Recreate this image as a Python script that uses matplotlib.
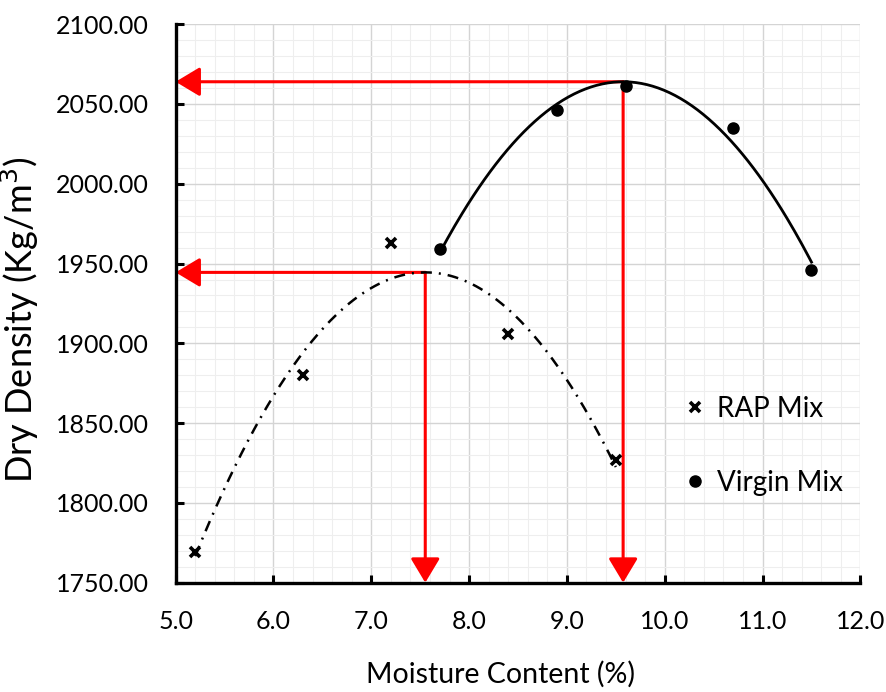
import numpy as np
import matplotlib
matplotlib.use("Agg")
import matplotlib.pyplot as plt
from matplotlib.ticker import MultipleLocator, FormatStrFormatter

plt.rcParams['font.family'] = ['Lato', 'DejaVu Sans']

# RAP mix compaction points
rap_moisture = [5.2, 6.3, 7.2, 8.4, 9.5]
rap_density = [1769, 1880, 1963, 1906, 1827]

# virgin mix compaction points
virgin_moisture = [7.7, 8.9, 9.6, 10.7, 11.5]
virgin_density = [1959, 2046, 2061, 2035, 1946]

fig = plt.figure(figsize=(8.87, 6.92), dpi=100)
ax = fig.add_axes([0.198, 0.158, 0.772, 0.807])

# 2nd order trendlines, like excel
def trend(x, y):
    c = np.polyfit(x, y, 2)
    xs = np.linspace(min(x), max(x), 200)
    xv = -c[1] / (2 * c[0])
    return xs, np.polyval(c, xs), xv, np.polyval(c, xv)

rx, ry, r_omc, r_mdd = trend(rap_moisture, rap_density)
vx, vy, v_omc, v_mdd = trend(virgin_moisture, virgin_density)

ax.plot(rx, ry, color='black', lw=1.8, ls=(0, (4.4, 2.8, 0.8, 2.8)), zorder=3)
ax.plot(vx, vy, color='black', lw=2.0, zorder=3)

ax.plot(rap_moisture, rap_density, 'x', color='black', ms=7, mew=2.6,
        ls='none', label='RAP Mix', zorder=4)
ax.plot(virgin_moisture, virgin_density, 'o', color='black', ms=8,
        ls='none', label='Virgin Mix', zorder=4)

# arrows to optimum moisture / max dry density
for omc, mdd in [(r_omc, r_mdd), (v_omc, v_mdd)]:
    props = dict(arrowstyle='-|>,head_length=0.75,head_width=0.45', color='red',
                 lw=2.2, mutation_scale=20, shrinkA=0, shrinkB=0)
    ax.annotate('', xy=(5.0, mdd), xytext=(omc, mdd), arrowprops=props, zorder=2)
    ax.annotate('', xy=(omc, 1750), xytext=(omc, mdd), arrowprops=props, zorder=2)

ax.set_xlim(5, 12)
ax.set_ylim(1750, 2100)
ax.xaxis.set_major_locator(MultipleLocator(1))
ax.xaxis.set_minor_locator(MultipleLocator(0.2))
ax.yaxis.set_major_locator(MultipleLocator(50))
ax.yaxis.set_minor_locator(MultipleLocator(10))
ax.xaxis.set_major_formatter(FormatStrFormatter('%.1f'))
ax.yaxis.set_major_formatter(FormatStrFormatter('%.2f'))

ax.grid(which='major', color='#d4d4d4', lw=1.0)
ax.grid(which='minor', color='#eeeeee', lw=0.8)
ax.set_axisbelow(True)

for s in ['top', 'right']:
    ax.spines[s].set_visible(False)
for s in ['left', 'bottom']:
    ax.spines[s].set_linewidth(2.4)

ax.tick_params(which='major', direction='in', length=6, width=2.2,
               labelsize=18, pad=20)
ax.tick_params(axis='y', pad=19)
ax.tick_params(which='minor', length=0)

ax.set_xlabel('Moisture Content (%)', fontsize=20.5)
ax.set_ylabel('Dry Density (Kg/m$^3$)', fontsize=26)
ax.xaxis.set_label_coords(0.475, -0.14)
ax.yaxis.set_label_coords(-0.197, 0.47)

ax.legend(loc='center left', bbox_to_anchor=(0.71, 0.245), frameon=False,
          fontsize=20, labelspacing=1.75, handlelength=0.6, handletextpad=0.5)

fig.savefig('out.png', dpi=100)
